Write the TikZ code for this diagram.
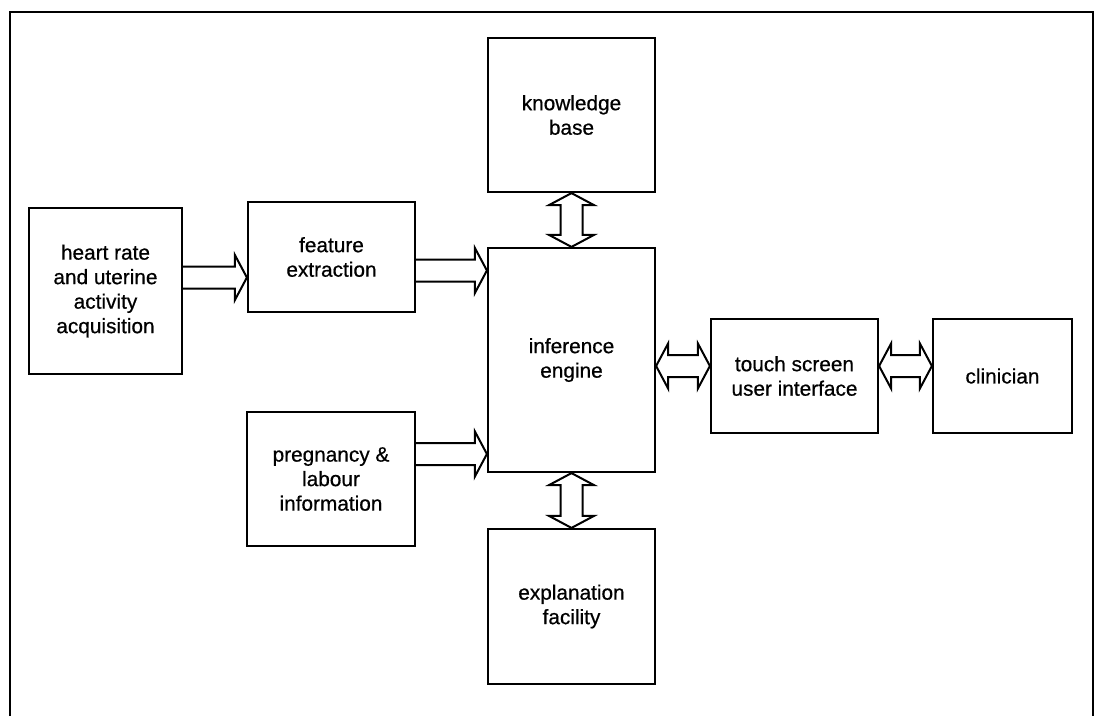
\documentclass[tikz,border=0pt]{standalone}
\usepackage{fontspec}
\setmainfont{Liberation Sans}[FakeBold=0.6]
\usetikzlibrary{calc}
% hollow block arrows: shaft half width, head half width, head length
\def\aw{11pt}
\def\ah{22.5pt}
\def\al{12pt}
% one-way block arrow from #1 to #2 (same height), pointing right
\newcommand\blockright[2]{%
  \draw[flow] let \p1=(#1), \p2=(#2) in
    (\x1,\y1+\aw) -- (\x2-\al,\y1+\aw) -- (\x2-\al,\y1+\ah) -- (\x2,\y1)
    -- (\x2-\al,\y1-\ah) -- (\x2-\al,\y1-\aw) -- (\x1,\y1-\aw);}
% two-way block arrow, left #1 to right #2
\newcommand\blockhoriz[2]{%
  \draw[flow] let \p1=(#1), \p2=(#2) in
    (\x1,\y1) -- (\x1+\al,\y1+\ah) -- (\x1+\al,\y1+\aw) -- (\x2-\al,\y1+\aw)
    -- (\x2-\al,\y1+\ah) -- (\x2,\y1) -- (\x2-\al,\y1-\ah) -- (\x2-\al,\y1-\aw)
    -- (\x1+\al,\y1-\aw) -- (\x1+\al,\y1-\ah) -- cycle;}
% two-way block arrow, upper #1 to lower #2
\newcommand\blockvert[2]{%
  \draw[flow] let \p1=(#1), \p2=(#2) in
    (\x1,\y1) -- (\x1+\ah,\y1-\al) -- (\x1+\aw,\y1-\al) -- (\x1+\aw,\y2+\al)
    -- (\x1+\ah,\y2+\al) -- (\x1,\y2) -- (\x1-\ah,\y2+\al) -- (\x1-\aw,\y2+\al)
    -- (\x1-\aw,\y1-\al) -- (\x1-\ah,\y1-\al) -- cycle;}
\begin{document}
\begin{tikzpicture}[x=1pt,y=-1pt,
  box/.style={draw, line width=2.2pt, inner sep=0pt, align=center,
    font=\fontsize{20.8}{24.5}\selectfont},
  flow/.style={draw, line width=2pt, line join=miter, fill=white}]
\useasboundingbox (0,0) rectangle (1095,716);
% outer frame, open at the bottom
\draw[line width=2.2pt] (10,716) -- (10,12) -- (1093,12) -- (1093,716);

\node[box, minimum width=153pt, minimum height=166pt] (heart) at (105.5,291)
  {heart rate\\and uterine\\activity\\acquisition};
\node[box, minimum width=167pt, minimum height=110pt] (feat) at (331.5,257)
  {feature\\extraction};
\node[box, minimum width=168pt, minimum height=134pt] (preg) at (331,479)
  {pregnancy \&\\labour\\information};
\node[box, minimum width=167pt, minimum height=224pt] (inf) at (571.5,360)
  {inference\\engine};
\node[box, minimum width=167pt, minimum height=154pt] (kb) at (571.5,115)
  {knowledge\\base};
\node[box, minimum width=167pt, minimum height=155pt] (expl) at (571.5,606.5)
  {explanation\\facility};
\node[box, minimum width=167pt, minimum height=114pt] (touch) at (794.5,376)
  {touch screen\\user interface};
\node[box, minimum width=139pt, minimum height=114pt] (clin) at (1002.5,376)
  {clinician};

% arrow axes
\coordinate (yhf) at (0,277.5);
\coordinate (yfi) at (0,270.5);
\coordinate (ypi) at (0,454);
\coordinate (ytc) at (0,366);
\coordinate (xv) at (571.5,0);

\blockright{heart.east |- yhf}{feat.west |- yhf}
\blockright{feat.east |- yfi}{inf.west |- yfi}
\blockright{preg.east |- ypi}{inf.west |- ypi}
\blockvert{kb.south -| xv}{inf.north -| xv}
\blockvert{inf.south -| xv}{expl.north -| xv}
\blockhoriz{inf.east |- ytc}{touch.west |- ytc}
\blockhoriz{touch.east |- ytc}{clin.west |- ytc}
\end{tikzpicture}
\end{document}
